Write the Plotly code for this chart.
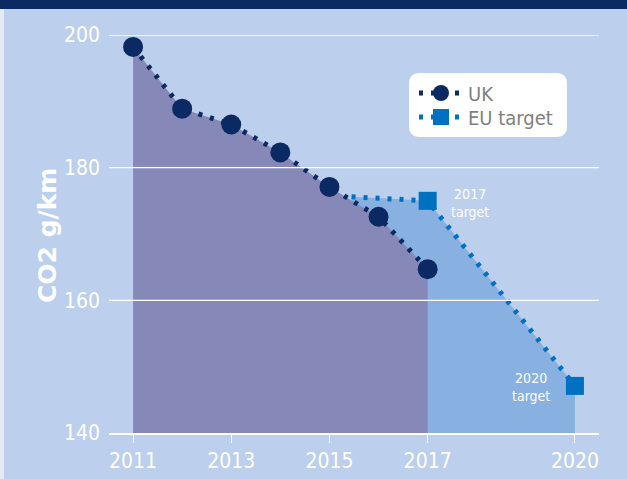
import plotly.graph_objects as go

# ---- data ----
uk_years = [2011, 2012, 2013, 2014, 2015, 2016, 2017]
uk_values = [198.2, 188.9, 186.5, 182.3, 177.1, 172.6, 164.7]
eu_years = [2015.45, 2017, 2020]
eu_values = [175.6, 175.0, 147.1]
eu_marker_years = [2017, 2020]
eu_marker_values = [175.0, 147.1]
x_ticks = [2011, 2013, 2015, 2017, 2020]
y_ticks = [140, 160, 180, 200]
grid_values = [160, 180, 200]

# ---- layout geometry (pixels) ----
W_FIG, H_FIG = 627, 479
PL, PR, PT, PB = 109, 599, 35, 433
PW, PH = PR - PL, PB - PT


def px(x):
    return (x - PL) / PW


def py(y):
    return (PB - y) / PH


NAVY = "#0B2A63"
BLUE = "#0070C0"
BG = "#BCCFEC"
UK_FILL = "#8689B8"
EU_FILL = "#88B0E0"
FONT = "DejaVu Sans Condensed, sans-serif"
DASH = "4px,8px"
LW = 5

fig = go.Figure()

# fills
fig.add_trace(go.Scatter(x=eu_years, y=eu_values, mode="none", fill="tozeroy",
                         fillcolor=EU_FILL, showlegend=False, hoverinfo="skip"))
fig.add_trace(go.Scatter(x=uk_years, y=uk_values, mode="none", fill="tozeroy",
                         fillcolor=UK_FILL, showlegend=False, hoverinfo="skip"))

# lines
fig.add_trace(go.Scatter(x=uk_years, y=uk_values, mode="lines+markers",
                         line=dict(color=NAVY, width=LW, dash=DASH),
                         marker=dict(color=NAVY, size=20, symbol="circle"),
                         cliponaxis=False, showlegend=False))
fig.add_trace(go.Scatter(x=eu_years, y=eu_values, mode="lines",
                         line=dict(color=BLUE, width=LW, dash=DASH),
                         cliponaxis=False, showlegend=False))
fig.add_trace(go.Scatter(x=eu_marker_years, y=eu_marker_values, mode="markers",
                         marker=dict(color=BLUE, size=18, symbol="square"),
                         cliponaxis=False, showlegend=False))

# legend-only entries (two legends for exact row spacing)
fig.add_trace(go.Scatter(x=[None], y=[None], mode="lines+markers", name="UK",
                         line=dict(color=NAVY, width=LW, dash=DASH),
                         marker=dict(color=NAVY, size=20, symbol="circle"),
                         legend="legend"))
fig.add_trace(go.Scatter(x=[None], y=[None], mode="lines+markers", name="EU target",
                         line=dict(color=BLUE, width=LW, dash=DASH),
                         marker=dict(color=BLUE, size=20, symbol="square"),
                         legend="legend2"))

shapes = []
# top dark band
shapes.append(dict(type="rect", xref="paper", yref="paper", x0=px(0), x1=px(W_FIG),
                   y0=py(9), y1=py(0), fillcolor=NAVY, line=dict(width=0), layer="above"))
# left light strip
shapes.append(dict(type="rect", xref="paper", yref="paper", x0=px(0), x1=px(4),
                   y0=py(H_FIG), y1=py(9), fillcolor="#E4EBF6", line=dict(width=0), layer="below"))
# gridlines above fills
for g in grid_values:
    shapes.append(dict(type="line", xref="paper", yref="y", x0=0, x1=1, y0=g, y1=g,
                       line=dict(color="white", width=1.3), layer="above"))

# rounded legend box
x0, x1, y0, y1, r = 409, 567, 73, 137, 11
path = (f"M {px(x0 + r)} {py(y0)} L {px(x1 - r)} {py(y0)} "
        f"Q {px(x1)} {py(y0)} {px(x1)} {py(y0 + r)} L {px(x1)} {py(y1 - r)} "
        f"Q {px(x1)} {py(y1)} {px(x1 - r)} {py(y1)} L {px(x0 + r)} {py(y1)} "
        f"Q {px(x0)} {py(y1)} {px(x0)} {py(y1 - r)} L {px(x0)} {py(y0 + r)} "
        f"Q {px(x0)} {py(y0)} {px(x0 + r)} {py(y0)} Z")
shapes.append(dict(type="path", xref="paper", yref="paper", path=path,
                   fillcolor="white", line=dict(width=0), layer="above"))

annotations = [
    dict(text="CO2 g/km", xref="paper", yref="paper", x=px(47), y=py(236),
         xanchor="center", yanchor="middle", textangle=-90, showarrow=False,
         font=dict(family="DejaVu Sans, sans-serif", size=25, color="white", weight="bold")),
    dict(text="2017<br>target", xref="paper", yref="paper", x=px(470), y=py(203),
         xanchor="center", yanchor="middle", showarrow=False,
         font=dict(family=FONT, size=14, color="white")),
    dict(text="2020<br>target", xref="paper", yref="paper", x=px(531), y=py(387),
         xanchor="center", yanchor="middle", showarrow=False,
         font=dict(family=FONT, size=14, color="white")),
]

legend_common = dict(xanchor="left", yanchor="middle", bgcolor="rgba(0,0,0,0)",
                     font=dict(family=FONT, size=20, color="#7F7F7F"),
                     itemsizing="trace", itemwidth=44)

fig.update_layout(
    width=W_FIG, height=H_FIG,
    margin=dict(l=PL, r=W_FIG - PR, t=PT, b=H_FIG - PB, pad=0),
    paper_bgcolor=BG, plot_bgcolor=BG,
    shapes=shapes, annotations=annotations,
    legend=dict(x=px(414), y=py(93), **legend_common),
    legend2=dict(x=px(414), y=py(117), **legend_common),
    xaxis=dict(range=[2010.51, 2020.49], tickvals=x_ticks, ticktext=[str(t) for t in x_ticks],
               showgrid=False, zeroline=False, showline=True, linecolor="white", linewidth=1.5,
               ticks="outside", ticklen=8, tickwidth=1.3, tickcolor="white",
               tickfont=dict(family=FONT, size=21, color="white"), ticklabelstandoff=0,
               automargin=False),
    yaxis=dict(range=[140, 200], tickvals=y_ticks, showgrid=False, zeroline=False,
               showline=False, ticks="", ticklabelstandoff=8,
               tickfont=dict(family=FONT, size=21, color="white"), automargin=False),
    showlegend=True,
)

fig.write_html("out.html", config={"displayModeBar": False},
               post_script="document.body.style.margin='0px';")
